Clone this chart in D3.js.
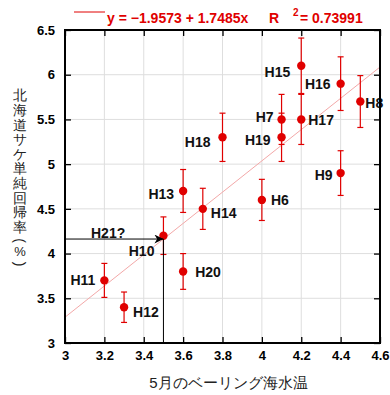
<!DOCTYPE html>
<html>
<head>
<meta charset="utf-8">
<script src="https://cdn.jsdelivr.net/npm/d3@7"></script>
<style>
  body { margin: 0; background: #fff; }
  text { font-family: "Liberation Sans", Arial, sans-serif; }
</style>
</head>
<body>
<div id="chart"></div>
<script>
// data
var years      = ["H6","H7","H8","H9","H10","H11","H12","H13","H14","H15","H16","H17","H18","H19","H20"];
var seaTemp    = [4.0, 4.1, 4.5, 4.4, 3.5, 3.2, 3.3, 3.6, 3.7, 4.2, 4.4, 4.2, 3.8, 4.1, 3.6];
var returnRate = [4.6, 5.5, 5.7, 4.9, 4.2, 3.7, 3.4, 4.7, 4.5, 6.1, 5.9, 5.5, 5.3, 5.3, 3.8];
var errorBar   = [0.23,0.28,0.29,0.25,0.21,0.19,0.17,0.24,0.23,0.31,0.30,0.28,0.27,0.27,0.20];
var xTicks = [3, 3.2, 3.4, 3.6, 3.8, 4, 4.2, 4.4, 4.6];
var yTicks = [3, 3.5, 4, 4.5, 5, 5.5, 6, 6.5];
var intercept = -1.9573, slope = 1.7485, r2 = 0.73991;
var forecastTemp = 3.5;   // H21?
var yTitle = "北海道サケ単純回帰率";
var yTitleUnit = ["(", "%", ")"];

// label placement (pixels, relative to the point)
var labelPos = {
  H6:  ["start", 9, 0],   H7:  ["end", -8, -2],  H8:  ["start", 5, 1],
  H9:  ["end", -8, 2],    H10: ["end", -9, 15],  H11: ["end", -9, 0],
  H12: ["start", 9, 5],   H13: ["end", -9, 3],   H14: ["start", 8, 4],
  H15: ["end", -11, 6],   H16: ["end", -10, 0],  H17: ["start", 7, 1],
  H18: ["end", -12, 5],   H19: ["end", -11, 3],  H20: ["start", 12, 1]
};

function init(){
    var w = 390, h = 395;
    var left = 65, right = 380, top = 30, bottom = 343;
    var red = "#e00000";

    var points = years.map(function(d, i){
        return {name: d, x: seaTemp[i], y: returnRate[i], e: errorBar[i]};
    });

    var xScale = d3.scaleLinear().domain([3, 4.6]).range([left, right]);
    var yScale = d3.scaleLinear().domain([3, 6.5]).range([bottom, top]);

    var svg = d3.select("#chart").append("svg")
      .attr("width", w).attr("height", h);

    // grid
    svg.append("g").selectAll("line").data(xTicks.slice(1, -1)).enter().append("line")
      .attr("x1", function(d){ return xScale(d); }).attr("x2", function(d){ return xScale(d); })
      .attr("y1", top).attr("y2", bottom)
      .attr("stroke", "#dedede").attr("stroke-width", 1);
    svg.append("g").selectAll("line").data(yTicks.slice(1, -1)).enter().append("line")
      .attr("y1", function(d){ return yScale(d); }).attr("y2", function(d){ return yScale(d); })
      .attr("x1", left).attr("x2", right)
      .attr("stroke", "#dedede").attr("stroke-width", 1);

    // regression line
    svg.append("line")
      .attr("x1", xScale(3)).attr("y1", yScale(intercept + slope * 3))
      .attr("x2", xScale(4.6)).attr("y2", yScale(intercept + slope * 4.6))
      .attr("stroke", "#f3a8a8").attr("stroke-width", 1);

    // error bars
    var eb = svg.append("g").attr("stroke", red).attr("stroke-width", 1.2);
    points.forEach(function(p){
        var cx = xScale(p.x);
        eb.append("line").attr("x1", cx).attr("x2", cx)
          .attr("y1", yScale(p.y - p.e)).attr("y2", yScale(p.y + p.e));
        [p.y - p.e, p.y + p.e].forEach(function(v){
            eb.append("line").attr("x1", cx - 3).attr("x2", cx + 3)
              .attr("y1", yScale(v)).attr("y2", yScale(v));
        });
    });

    // points
    svg.append("g").selectAll("circle").data(points).enter().append("circle")
      .attr("cx", function(d){ return xScale(d.x); })
      .attr("cy", function(d){ return yScale(d.y); })
      .attr("r", 4.2).attr("fill", red);

    // forecast arrow
    var pred = intercept + slope * forecastTemp;
    svg.append("defs").append("marker")
      .attr("id", "arr").attr("viewBox", "0 0 10 10")
      .attr("refX", 10).attr("refY", 5)
      .attr("markerWidth", 9).attr("markerHeight", 9)
      .attr("markerUnits", "userSpaceOnUse")
      .attr("orient", "auto")
      .append("path").attr("d", "M0,0 L10,5 L0,10 L3,5 z").attr("fill", "#000");
    svg.append("line")
      .attr("x1", xScale(forecastTemp)).attr("x2", xScale(forecastTemp))
      .attr("y1", yScale(3)).attr("y2", yScale(pred))
      .attr("stroke", "#000").attr("stroke-width", 1);
    svg.append("line")
      .attr("x1", xScale(3)).attr("x2", xScale(forecastTemp))
      .attr("y1", yScale(pred)).attr("y2", yScale(pred))
      .attr("stroke", "#000").attr("stroke-width", 1)
      .attr("marker-end", "url(#arr)");
    svg.append("text")
      .attr("x", xScale(3) + 26).attr("y", yScale(pred) - 1)
      .attr("font-size", 14).attr("font-weight", "bold").attr("fill", "#111")
      .text("H21?");

    // point labels
    svg.append("g").selectAll("text").data(points).enter().append("text")
      .attr("x", function(d){ return xScale(d.x) + labelPos[d.name][1]; })
      .attr("y", function(d){ return yScale(d.y) + labelPos[d.name][2]; })
      .attr("dy", "0.36em")
      .attr("text-anchor", function(d){ return labelPos[d.name][0]; })
      .attr("font-size", 14).attr("font-weight", "bold").attr("fill", "#111")
      .text(function(d){ return d.name; });

    // axes (ticks inward on all sides)
    var tk = 6;
    svg.append("g").attr("transform", "translate(0," + bottom + ")")
      .call(d3.axisBottom(xScale).tickValues(xTicks).tickSizeInner(-tk).tickSizeOuter(0).tickPadding(8).tickFormat(d3.format("")));
    svg.append("g").attr("transform", "translate(0," + top + ")")
      .call(d3.axisTop(xScale).tickValues(xTicks).tickSizeInner(-tk).tickSizeOuter(0).tickFormat(""));
    svg.append("g").attr("transform", "translate(" + left + ",0)")
      .call(d3.axisLeft(yScale).tickValues(yTicks).tickSizeInner(-tk).tickSizeOuter(0).tickPadding(10).tickFormat(d3.format("")));
    svg.append("g").attr("transform", "translate(" + right + ",0)")
      .call(d3.axisRight(yScale).tickValues(yTicks).tickSizeInner(-tk).tickSizeOuter(0).tickFormat(""));
    svg.selectAll(".domain").remove();
    svg.selectAll(".tick line").attr("stroke", "#000").attr("stroke-width", 1.3);
    svg.selectAll(".tick text")
      .attr("font-family", "Liberation Sans, Arial, sans-serif")
      .attr("font-size", 13).attr("font-weight", "bold").attr("fill", "#000");

    // frame
    svg.append("rect")
      .attr("x", left).attr("y", top)
      .attr("width", right - left).attr("height", bottom - top)
      .attr("fill", "none").attr("stroke", "#000").attr("stroke-width", 2);

    // legend / regression formula
    svg.append("line").attr("x1", 74).attr("x2", 105).attr("y1", 12).attr("y2", 12)
      .attr("stroke", red).attr("stroke-width", 1);
    var lg = svg.append("g").attr("fill", red).attr("font-weight", "bold").attr("font-size", 14);
    lg.append("text").attr("x", 107).attr("y", 23)
      .text("y = \u2212" + Math.abs(intercept) + " + " + slope + "x");
    lg.append("text").attr("x", 269).attr("y", 23).text("R");
    lg.append("text").attr("x", 293).attr("y", 16).attr("font-size", 10).text("2");
    lg.append("text").attr("x", 300).attr("y", 23).text("= " + r2);

    // axis titles
    svg.append("text")
      .attr("x", (left + right) / 2 + 6).attr("y", 388)
      .attr("text-anchor", "middle")
      .attr("font-family", "Noto Sans CJK JP").attr("font-size", 15).attr("fill", "#222")
      .text("5月のベーリング海水温");

    // vertical y title, one glyph per line
    var yt = svg.append("g")
      .attr("font-family", "Noto Sans CJK JP").attr("font-size", 14).attr("fill", "#222")
      .attr("text-anchor", "middle");
    yt.selectAll("text.c").data(yTitle.split("")).enter().append("text")
      .attr("class", "c")
      .attr("x", 20)
      .attr("y", function(d, i){ return 95.3 + i * 14.6; })
      .attr("dy", "0.36em")
      .text(function(d){ return d; });
    var unitY = [240.5, 252, 264];
    yt.selectAll("text.u").data(yTitleUnit).enter().append("text")
      .attr("class", "u")
      .attr("font-family", function(d){ return d === "%" ? "Noto Sans CJK JP" : "Liberation Sans"; })
      .attr("font-size", function(d){ return d === "%" ? 13 : 14; })
      .attr("transform", function(d, i){
          return "translate(20," + unitY[i] + ")" + (d === "%" ? "" : " rotate(90)");
      })
      .attr("dy", "0.34em")
      .text(function(d){ return d; });
}

window.onload = init;
</script>
</body>
</html>
